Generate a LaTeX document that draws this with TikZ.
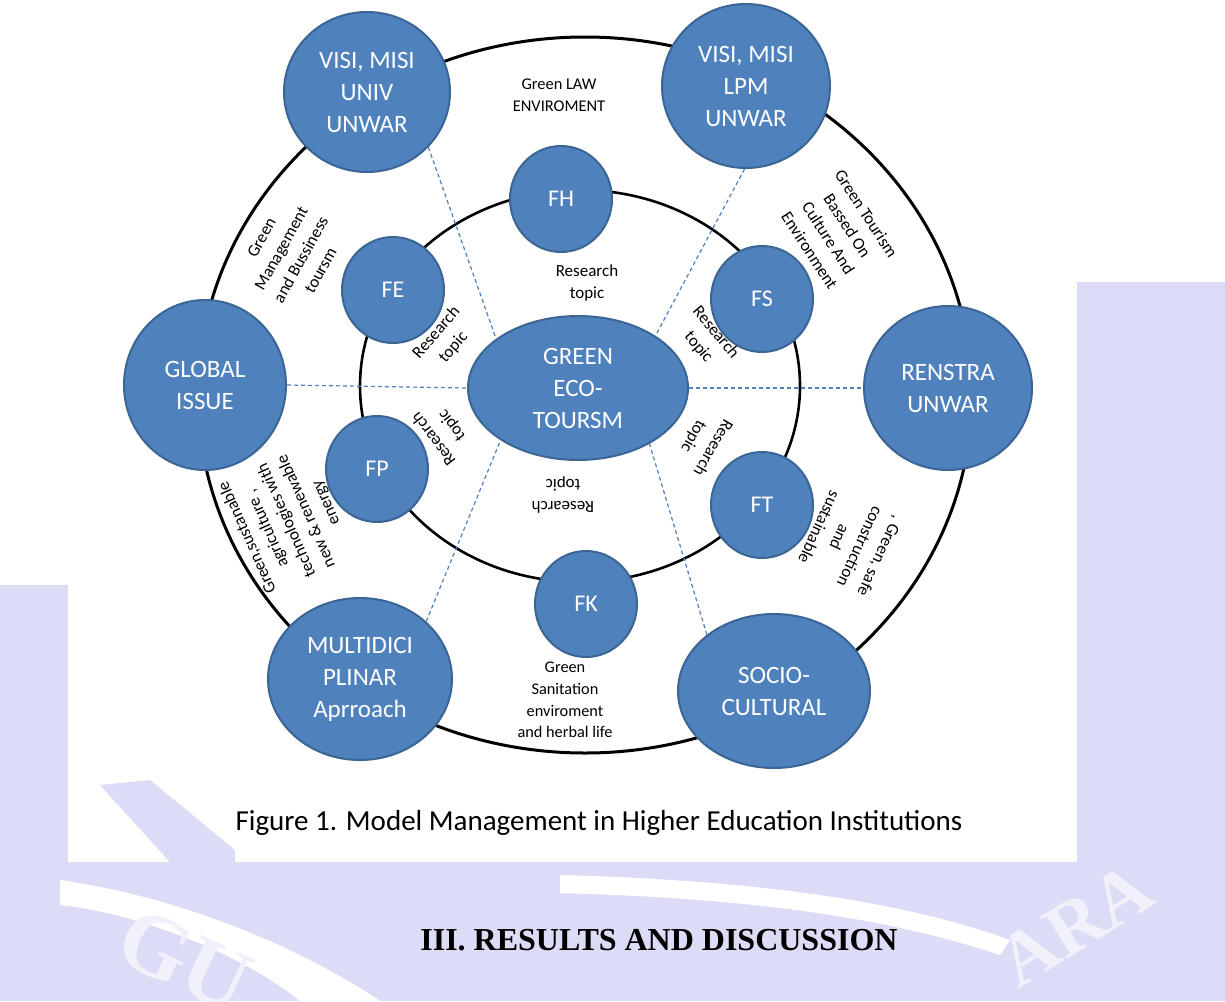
\documentclass[tikz,border=0pt]{standalone}
\usepackage{fontspec}
\setmainfont{Carlito}
\newfontfamily\headfont{Liberation Serif}
\usetikzlibrary{shapes.geometric}
\definecolor{nodeblue}{HTML}{4F81BD}
\definecolor{nodeedge}{HTML}{3A6594}
\definecolor{wm}{HTML}{DCDCF7}
\begin{document}
\begin{tikzpicture}[x=1pt,y=-1pt,
  bignode/.style={ellipse, fill=nodeblue, draw=nodeedge, line width=2pt, text=white,
    align=center, inner sep=0pt, font=\fontsize{25}{32}\selectfont},
  fnode/.style={ellipse, fill=nodeblue, draw=nodeedge, line width=2pt, text=white,
    inner sep=0pt, minimum width=102pt, minimum height=106pt, font=\fontsize{24}{30}\selectfont},
  lbl/.style={align=center, inner sep=0pt, font=\fontsize{17}{22.5}\selectfont},
  link/.style={draw=nodeblue, dash pattern=on 4pt off 3pt, line width=1.2pt},
  ring/.style={draw=black, line width=3pt}]
\useasboundingbox (0,0) rectangle (1225,1001);
% watermark background
\fill[white] (0,0) rectangle (1225,1001);
\fill[wm] (0,585) rectangle (68,1001);
\fill[wm] (1077,282) rectangle (1225,1001);
\fill[wm] (0,862) rectangle (1225,1001);
\fill[wm] (100,785) -- (150,780) -- (235,850) -- (235,862) -- (170,862) -- cycle;
\fill[white] (60,880) .. controls (200,900) and (320,960) .. (380,1001) -- (300,1001) .. controls (250,960) and (150,915) .. (60,905) -- cycle;
\fill[white] (560,875) .. controls (750,880) and (900,900) .. (1010,940) -- (1000,955) .. controls (880,915) and (740,898) .. (560,893) -- cycle;
\node[text=white!60!wm, font=\headfont\bfseries\fontsize{90}{90}\selectfont, rotate=-25, inner sep=0pt] (wmgu) at (185,960) {GU};
\node[text=white!60!wm, font=\headfont\bfseries\fontsize{76}{76}\selectfont, rotate=32, inner sep=0pt] (wmara) at (1075,925) {ARA};
% rings
\draw[ring] (585,395) ellipse [x radius=387pt, y radius=358pt];
\draw[ring, line width=2.6pt] (580,386) ellipse [x radius=220pt, y radius=196pt];
% outer nodes
\node[bignode, minimum width=166pt, minimum height=160pt] (univ) at (367,92) {VISI, MISI\\UNIV\\UNWAR};
\node[bignode, minimum width=168pt, minimum height=164pt] (lpm) at (746,86) {VISI, MISI\\LPM\\UNWAR};
\node[bignode, minimum width=162pt, minimum height=170pt] (global) at (205,385) {GLOBAL\\ISSUE};
\node[bignode, minimum width=168pt, minimum height=164pt] (renstra) at (948,388) {RENSTRA\\UNWAR};
\node[bignode, minimum width=184pt, minimum height=162pt] (multi) at (360,679) {MULTIDICI\\PLINAR\\Aprroach};
\node[bignode, minimum width=192pt, minimum height=154pt] (socio) at (774,691) {SOCIO-\\CULTURAL};
\node[bignode, minimum width=220pt, minimum height=144pt] (eco) at (578,388) {GREEN\\ECO-\\TOURSM};
% inner nodes
\node[fnode] (fh) at (561,199) {FH};
\node[fnode] (fe) at (393,290) {FE};
\node[fnode] (fs) at (762,299) {FS};
\node[fnode] (fp) at (377,469) {FP};
\node[fnode] (ft) at (762,505) {FT};
\node[fnode] (fk) at (586,604) {FK};
% dashed links
\draw[link] (univ.-42) -- (eco.149);
\draw[link] (lpm.-91) -- (eco.34);
\draw[link] (global.east) -- (eco.west);
\draw[link] (eco.east) -- (renstra.west);
\draw[link] (multi.41) -- (eco.-146);
\draw[link] (socio.140) -- (eco.-38);
% labels
\node[lbl, font=\fontsize{16.4}{21.5}\selectfont] (law) at (559,95) {Green LAW\\ENVIROMENT};
\node[lbl, rotate=61] (mgmt) at (291,254) {Green\\Management\\and Bussiness\\toursm};
\node[lbl, rotate=-57] (tour) at (838,232) {Green Tourism\\Bassed On\\Culture And\\Environment};
\node[lbl, rotate=114, font=\fontsize{17}{21.5}\selectfont] (agri) at (287,520) {Green,sustanable\\agriculture ,\\technologies with\\new \& renewable\\energy};
\node[lbl, rotate=-115] (safe) at (850,542) {, Green, safe\\construction\\and\\sustainable};
\node[lbl, font=\fontsize{16.3}{21.7}\selectfont] (sanit) at (565,700) {Green\\Sanitation\\enviroment\\and herbal life};
\node[lbl] (rt1) at (587,283) {Research\\topic};
\node[lbl, rotate=49] (rt2) at (445,340) {Research\\topic};
\node[lbl, rotate=-50] (rt3) at (707,340) {Research\\topic};
\node[lbl, rotate=127] (rt4) at (443,432) {Research\\topic};
\node[lbl, rotate=-120] (rt5) at (703,442) {Research\\topic};
\node[lbl, rotate=180] (rt6) at (563,495) {Research\\topic};
% caption and heading
\node[inner sep=0pt, font=\fontsize{29}{34}\selectfont] (cap) at (599,823) {Figure 1. Model Management in Higher Education Institutions};
\node[inner sep=0pt, font=\headfont\bfseries\fontsize{32}{38}\selectfont] (head) at (659,940) {III. RESULTS AND DISCUSSION};
\end{tikzpicture}
\end{document}
